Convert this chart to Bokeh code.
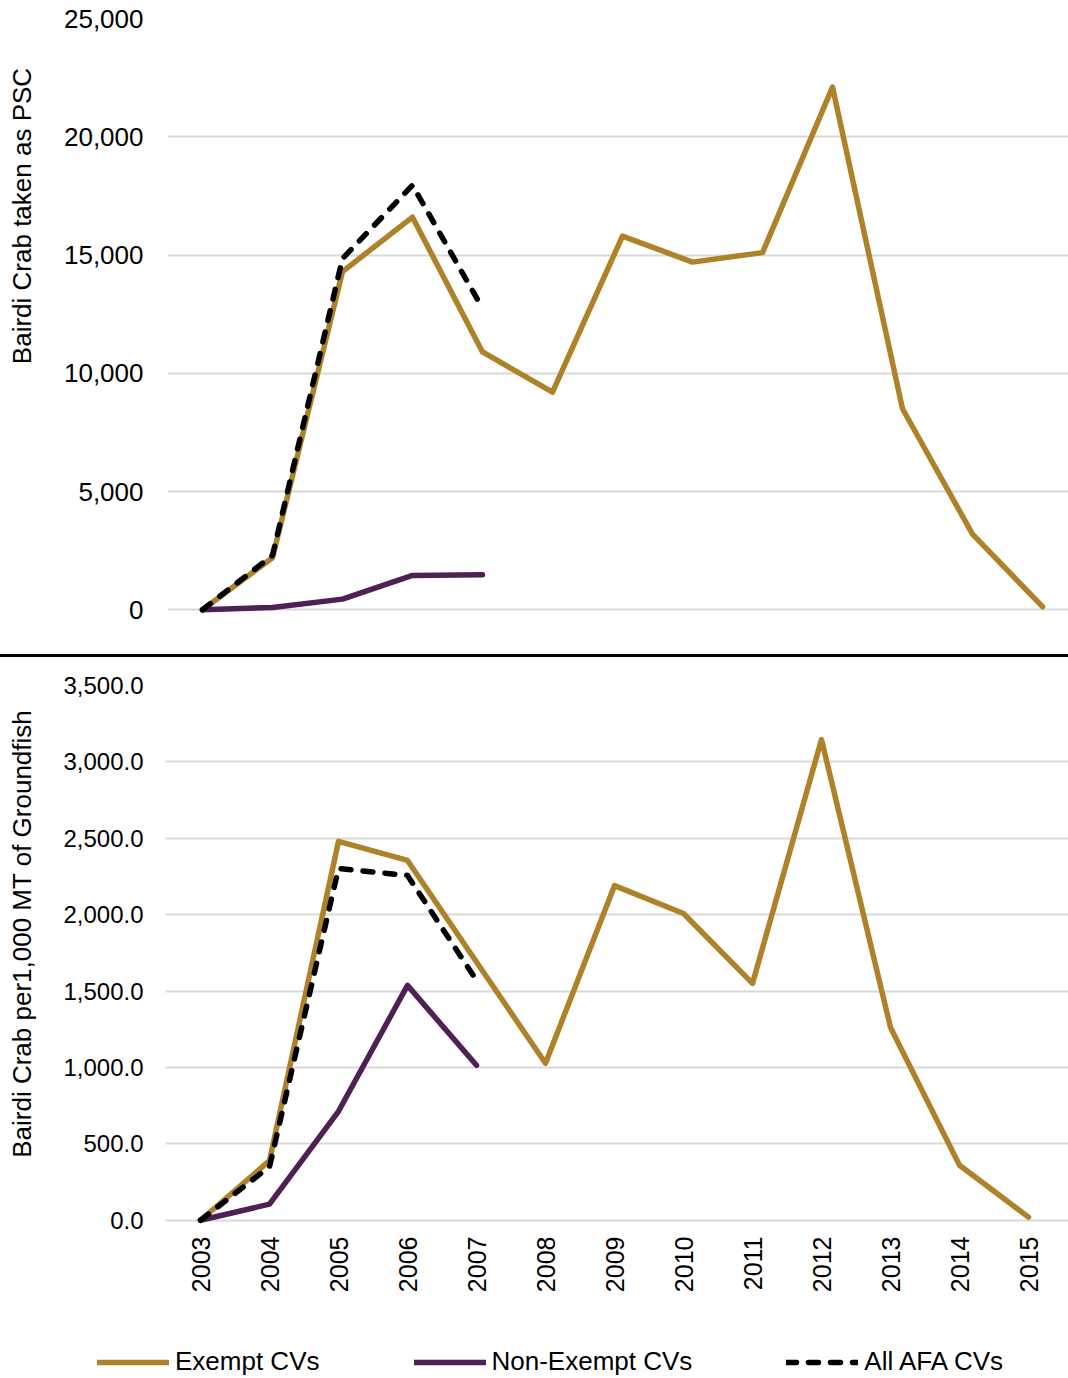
import math
from bokeh.plotting import figure
from bokeh.layouts import column, row
from bokeh.models import (Range1d, FixedTicker, NumeralTickFormatter,
                          Legend, LegendItem, Div)
from bokeh.embed import file_html
from bokeh.resources import INLINE

# ---------------- data ----------------
years = [2003, 2004, 2005, 2006, 2007, 2008, 2009, 2010, 2011, 2012, 2013, 2014, 2015]
years_short = [2003, 2004, 2005, 2006, 2007]
year_labels = [str(y) for y in years]

psc_exempt = [0, 2200, 14300, 16600, 10900, 9200, 15800, 14700, 15100, 22100, 8500, 3200, 130]
psc_nonexempt = [0, 100, 450, 1450, 1480]
psc_all = [0, 2300, 14850, 17950, 12750]

rate_exempt = [0, 390, 2480, 2355, 1690, 1027, 2190, 2008, 1550, 3146, 1262, 360, 20]
rate_nonexempt = [0, 105, 713, 1537, 1014]
rate_all = [0, 350, 2302, 2257, 1570]

psc_ticks = [0, 5000, 10000, 15000, 20000, 25000]
rate_ticks = [0, 500, 1000, 1500, 2000, 2500, 3000, 3500]

series_names = ["Exempt CVs", "Non-Exempt CVs", "All AFA CVs"]
top_ylabel = "Bairdi Crab taken as PSC"
bottom_ylabel = "Bairdi Crab per1,000 MT of Groundfish"

GOLD = "#AE8228"
PURPLE = "#4F1F56"
GRID = "#D9D9D9"
FONT = "Liberation Sans"
LW = 5.5
DASH = "10 12"


def style(p, ticks, fmt, tick_size, standoff):
    p.outline_line_color = None
    p.xgrid.grid_line_color = None
    p.ygrid.grid_line_color = GRID
    p.ygrid.grid_line_width = 2
    p.yaxis.ticker = FixedTicker(ticks=ticks)
    p.yaxis.formatter = NumeralTickFormatter(format=fmt)
    p.yaxis.axis_line_color = None
    p.yaxis.major_tick_line_color = None
    p.yaxis.major_tick_out = 0
    p.yaxis.major_tick_in = 0
    p.yaxis.minor_tick_line_color = None
    p.yaxis.minor_tick_out = 0
    p.yaxis.major_label_text_font = FONT
    p.yaxis.major_label_text_font_size = tick_size
    p.yaxis.major_label_text_color = "#000000"
    p.yaxis.major_label_standoff = standoff


def ylabel_div(text, height, cy):
    html = ('<div style="width:40px;height:%dpx;position:relative;overflow:visible;">'
            '<div style="position:absolute;left:22px;top:%dpx;'
            'transform:translate(-50%%,-50%%) rotate(-90deg);white-space:nowrap;'
            "font-family:'Liberation Sans',Arial,sans-serif;font-size:26px;line-height:30px;"
            'color:#000000;">%s</div></div>') % (height, cy, text)
    return Div(text=html, width=40, height=height, margin=0)


def series(p, x_all, x_short, ex, nonex, allv):
    r1 = p.line(x_all, ex, line_color=GOLD, line_width=LW, line_join="round", line_cap="round")
    r2 = p.line(x_short, nonex, line_color=PURPLE, line_width=LW, line_join="round", line_cap="round")
    r3 = p.line(x_short, allv, line_color="black", line_width=LW, line_dash=DASH,
                line_join="round", line_cap="round")
    return r1, r2, r3


# ---------------- top figure ----------------
top = figure(width=1028, height=654, output_backend="svg", toolbar_location=None,
             x_range=Range1d(2002.5, 2002.5 + 901 / 70.0),
             y_range=Range1d(-200, 25000),
             min_border_left=127, min_border_right=0,
             min_border_top=18, min_border_bottom=40)
style(top, psc_ticks, "0,0", "26px", 24)
top.xaxis.visible = False
series(top, years, years_short, psc_exempt, psc_nonexempt, psc_all)

top_row = row(ylabel_div(top_ylabel, 654, 216), top, spacing=0)

sep = Div(text="", width=1068, height=3, margin=0,
          styles={"background-color": "#000000"})

# ---------------- bottom figure ----------------
bot = figure(width=1028, height=651, output_backend="svg", toolbar_location=None,
             x_range=Range1d(2003 - 35 / 69.0, 2003 - 35 / 69.0 + 903 / 69.0),
             y_range=Range1d(-28, 3500),
             min_border_left=125, min_border_right=0,
             min_border_top=28, min_border_bottom=84)
style(bot, rate_ticks, "0,0.0", "24px", 22)
bot.xaxis.ticker = FixedTicker(ticks=years)
bot.xaxis.major_label_overrides = {y: s for y, s in zip(years, year_labels)}
bot.xaxis.major_label_orientation = math.pi / 2
bot.xaxis.axis_line_color = None
bot.xaxis.major_tick_line_color = None
bot.xaxis.major_tick_out = 0
bot.xaxis.major_tick_in = 0
bot.xaxis.minor_tick_line_color = None
bot.xaxis.minor_tick_out = 0
bot.xaxis.major_label_text_font = FONT
bot.xaxis.major_label_text_font_size = "25px"
bot.xaxis.major_label_text_color = "#000000"
bot.xaxis.major_label_standoff = 12
series(bot, years, years_short, rate_exempt, rate_nonexempt, rate_all)

bot_row = row(ylabel_div(bottom_ylabel, 651, 277), bot, spacing=0)

# ---------------- legend strip ----------------
# Same series drawn again, but the strip's ranges keep them out of view;
# only their legend entries are shown.
leg = figure(width=1068, height=70, output_backend="svg", toolbar_location=None,
             x_range=Range1d(0, 1), y_range=Range1d(0, 1),
             x_axis_location=None, y_axis_location=None,
             min_border_left=0, min_border_right=0, min_border_top=0, min_border_bottom=0)
leg.outline_line_color = None
leg.grid.visible = False
l1, l2, l3 = series(leg, years, years_short, rate_exempt, rate_nonexempt, rate_all)
legend = Legend(items=[LegendItem(label=series_names[0], renderers=[l1]),
                       LegendItem(label=series_names[1], renderers=[l2]),
                       LegendItem(label=series_names[2], renderers=[l3])],
                orientation="horizontal", location=(97, 1),
                spacing=94, glyph_width=72, glyph_height=20, label_standoff=6,
                padding=0, margin=0, border_line_color=None, background_fill_alpha=0,
                label_text_font=FONT, label_text_font_size="26px", label_text_color="#000000")
leg.add_layout(legend, "center")

layout = column(top_row, sep, bot_row, leg, spacing=0)
open("out.html", "w").write(file_html(layout, INLINE))
